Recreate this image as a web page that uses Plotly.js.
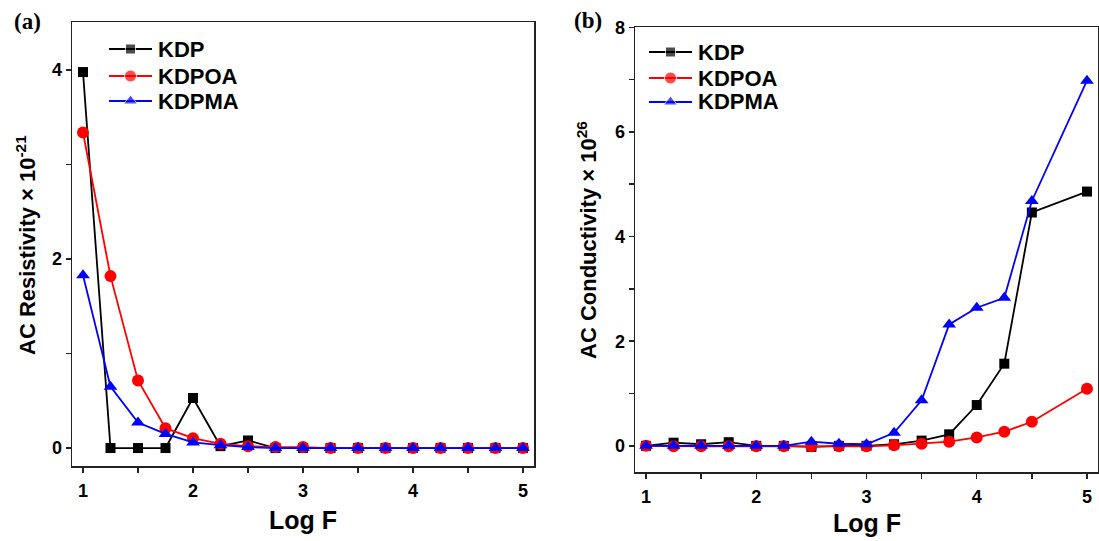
<!DOCTYPE html>
<html><head><meta charset="utf-8">
<script src="https://cdn.plot.ly/plotly-3.0.1.min.js"></script>
<style>body{margin:0;padding:0;background:#fff}#plot{width:1099px;height:541px}</style>
</head><body><div id="plot"></div>
<script>
// Panel (a): AC resistivity x 10^-21
const xA = [1,1.25,1.5,1.75,2,2.25,2.5,2.75,3,3.25,3.5,3.75,4,4.25,4.5,4.75,5];
const resKDP   = [3.98,0,0,0,0.53,0.02,0.08,0,0,0,0,0,0,0,0,0,0];
const resKDPOA = [3.34,1.82,0.715,0.21,0.105,0.045,0.02,0.01,0.01,0,0,0,0,0,0,0,0];
const resKDPMA = [1.83,0.65,0.27,0.15,0.06,0.03,0.01,0,0,0,0,0,0,0,0,0,0];
// Panel (b): AC conductivity x 10^26
const xB = [1,1.25,1.5,1.75,2,2.25,2.5,2.75,3,3.25,3.5,3.75,4,4.25,4.5,5];
const conKDP   = [0,0.06,0.03,0.07,0,0,-0.02,0,0,0.03,0.1,0.22,0.78,1.57,4.46,4.86];
const conKDPOA = [0,-0.01,-0.01,-0.01,-0.01,-0.01,-0.01,-0.01,-0.01,0.01,0.04,0.08,0.16,0.27,0.46,1.09];
const conKDPMA = [0,0,0,0,0,0,0.08,0.04,0.03,0.25,0.87,2.32,2.64,2.83,4.68,6.98];
const names = ['KDP','KDPOA','KDPMA'];
const colors = ['#000000','#ff0000','#0000ff'];
const symbols = ['square','circle','triangle-up'];
const msizes = [10,12,12];
const xTickVals = [1,2,3,4,5];
const xMinorVals = [1.5,2.5,3.5,4.5];
const yATickVals = [0,2,4];
const yAMinorVals = [1,3];
const yBTickVals = [0,2,4,6,8];
const yBMinorVals = [1,3,5,7];

const F = 'Liberation Sans, Arial, sans-serif';
function tr(x,y,i,xa,ya){
  return {x:x,y:y,name:names[i],type:'scatter',mode:'lines+markers',xaxis:xa,yaxis:ya,
    line:{color:colors[i],width:1.8},
    marker:{symbol:symbols[i],size:msizes[i],color:colors[i]},
    showlegend:false};
}
const data = [
  tr(xA,resKDP,0,'x','y'), tr(xA,resKDPOA,1,'x','y'), tr(xA,resKDPMA,2,'x','y'),
  tr(xB,conKDP,0,'x2','y2'), tr(xB,conKDPOA,1,'x2','y2'), tr(xB,conKDPMA,2,'x2','y2')
];
const W=1099,H=541;
function lx(p){return p/W;} function ly(p){return 1-p/H;}
const legA = {x0:109,x1:152,tx:156,ys:[49,76,101]};
const legB = {x0:649,x1:692,tx:696,ys:[52,78,102]};
[legA,legB].forEach(function(L){
  for(let i=0;i<3;i++){
    data.push({x:[lx(L.x0),lx((L.x0+L.x1)/2),lx(L.x1)],y:[ly(L.ys[i]),ly(L.ys[i]),ly(L.ys[i])],
      xaxis:'x3',yaxis:'y3',type:'scatter',mode:'lines+markers',showlegend:false,hoverinfo:'skip',
      line:{color:colors[i],width:1.8},
      marker:{symbol:symbols[i],size:[0,msizes[i],0],color:colors[i]}});
  }
});
function mkAxis(extra, minorVals){
  return Object.assign({showline:true,linecolor:'#222',linewidth:1.5,mirror:true,ticks:'outside',ticklen:5,tickwidth:1.5,tickcolor:'#222',
    showgrid:false,zeroline:false,tickmode:'array',tickfont:{family:F,size:18,color:'#000',weight:'bold'},
    minor:{tickmode:'array',tickvals:minorVals,ticks:'outside',ticklen:5,tickwidth:1.5,tickcolor:'#222',showgrid:false}}, extra);
}
const annotations = [];
function ann(text,x,y,opts){annotations.push(Object.assign({text:text,x:lx(x),y:ly(y),xref:'paper',yref:'paper',showarrow:false,xanchor:'center',yanchor:'middle',
  font:{family:F,size:22,color:'#000',weight:'bold'}},opts||{}));}
[legA,legB].forEach(function(L){for(let i=0;i<3;i++){ann(names[i],L.tx,L.ys[i],{xanchor:'left',font:{family:F,size:22,color:'#000',weight:'bold'}});}});
ann('(a)',27,21,{font:{family:'Liberation Serif, Times New Roman, serif',size:23,color:'#000',weight:'bold'}});
ann('(b)',588,20,{font:{family:'Liberation Serif, Times New Roman, serif',size:23,color:'#000',weight:'bold'}});
ann('Log F',303,520,{font:{family:F,size:25,color:'#000',weight:'bold'}});
ann('Log F',867,523,{font:{family:F,size:25,color:'#000',weight:'bold'}});
ann('AC Resistivity × 10<sup>-21</sup>',26,245,{textangle:-90});
ann('AC Conductivity × 10<sup>26</sup>',587,240,{textangle:-90});

const layout = {
  width:W,height:H,margin:{l:0,r:0,t:0,b:0},paper_bgcolor:'#fff',plot_bgcolor:'rgba(0,0,0,0)',showlegend:false,
  xaxis:mkAxis({domain:[72/W,534/W],range:[0.9,5.1],tickvals:xTickVals,anchor:'y',ticklabelstandoff:3},xMinorVals),
  yaxis:mkAxis({domain:[1-466/H,1-22/H],range:[-0.19,4.51],tickvals:yATickVals,anchor:'x'},yAMinorVals),
  xaxis2:mkAxis({domain:[635/W,1098/W],range:[0.9,5.1],tickvals:xTickVals,anchor:'y2',ticklabelstandoff:3},xMinorVals),
  yaxis2:mkAxis({domain:[1-472/H,1-27/H],range:[-0.5,8.005],tickvals:yBTickVals,anchor:'x2'},yBMinorVals),
  xaxis3:{domain:[0,1],range:[0,1],visible:false,fixedrange:true,anchor:'y3'},
  yaxis3:{domain:[0,1],range:[0,1],visible:false,fixedrange:true,anchor:'x3'},
  annotations:annotations
};
Plotly.newPlot('plot',data,layout,{displayModeBar:false,staticPlot:true});
</script></body></html>
